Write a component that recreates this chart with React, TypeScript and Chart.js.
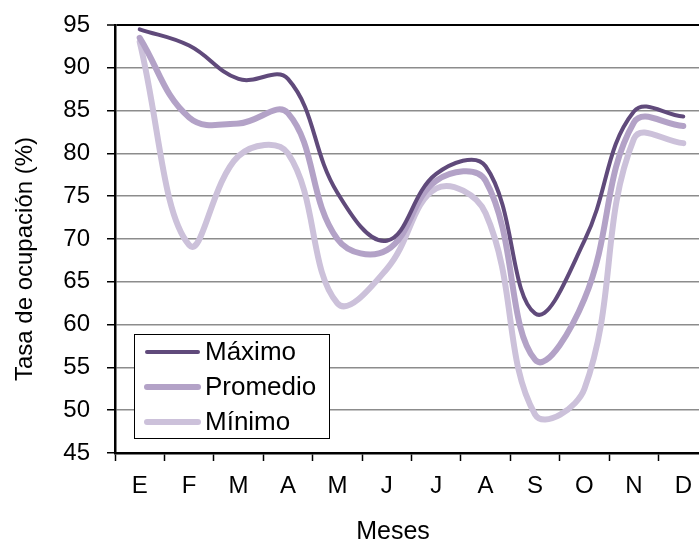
import React, { useEffect, useRef } from "react";
import { Chart, registerables } from "chart.js";

Chart.register(...registerables);

// ---- data ----
const months = ["E", "F", "M", "A", "M", "J", "J", "A", "S", "O", "N", "D"];
const maximo = [94.5, 92.6, 88.7, 88.7, 75.4, 69.8, 77.6, 78.5, 61.3, 69.8, 84.9, 84.3];
const promedio = [93.5, 84.2, 83.5, 84.7, 70.0, 68.7, 76.8, 76.8, 55.9, 63.0, 83.6, 83.2];
const minimo = [93.0, 69.3, 79.7, 80.0, 62.5, 66.5, 75.9, 73.0, 49.5, 52.5, 81.7, 81.2];
const seriesNames = ["Máximo", "Promedio", "Mínimo"];
const seriesColors = ["#604a7b", "#b3a2c7", "#ccc1da"];
const seriesWidths = [4, 6, 6];
const yMin = 45;
const yMax = 95;
const yStep = 5;
const yTitle = "Tasa de ocupación (%)";
const xTitle = "Meses";

const FONT = "'Liberation Sans', Arial, sans-serif";

const overlayPlugin = {
  id: "overlay",
  afterDraw(chart: any) {
    const ctx = chart.ctx as CanvasRenderingContext2D;
    const area = chart.chartArea;
    ctx.save();
    // legend box inside plot area
    const bx = area.left + 19;
    const by = area.top + 309;
    const bw = 195;
    const bh = 104;
    ctx.fillStyle = "#ffffff";
    ctx.fillRect(bx, by, bw, bh);
    ctx.strokeStyle = "#000000";
    ctx.lineWidth = 1;
    ctx.strokeRect(bx + 0.5, by + 0.5, bw, bh);
    chart.data.datasets.forEach((ds: any, i: number) => {
      const cy = by + 18 + i * 35;
      ctx.strokeStyle = ds.borderColor;
      ctx.lineWidth = ds.borderWidth;
      ctx.lineCap = "round";
      ctx.beginPath();
      ctx.moveTo(bx + 13, cy);
      ctx.lineTo(bx + 64, cy);
      ctx.stroke();
      ctx.fillStyle = "#000000";
      ctx.font = `26px ${FONT}`;
      ctx.textAlign = "left";
      ctx.textBaseline = "middle";
      ctx.fillText(ds.label, bx + 71, cy + 1);
    });
    // axis titles
    ctx.fillStyle = "#000000";
    ctx.font = `24px ${FONT}`;
    ctx.textAlign = "center";
    ctx.textBaseline = "middle";
    ctx.save();
    ctx.translate(25, 259);
    ctx.rotate(-Math.PI / 2);
    ctx.fillText(yTitle, 0, 0);
    ctx.restore();
    ctx.textBaseline = "alphabetic";
    ctx.font = `25px ${FONT}`;
    ctx.fillText(xTitle, 393, 539);
    ctx.restore();
  },
};

function App() {
  const canvasRef = useRef<HTMLCanvasElement | null>(null);

  useEffect(() => {
    const canvas = canvasRef.current;
    if (!canvas) return;
    const values = [maximo, promedio, minimo];
    const chart = new Chart(canvas, {
      type: "line",
      data: {
        labels: months,
        datasets: values.map((v, i) => ({
          label: seriesNames[i],
          data: v,
          borderColor: seriesColors[i],
          backgroundColor: seriesColors[i],
          borderWidth: seriesWidths[i],
          borderCapStyle: "round",
          borderJoinStyle: "round",
          pointRadius: 0,
          tension: 0.4,
          fill: false,
        })),
      },
      options: {
        responsive: false,
        animation: false,
        devicePixelRatio: 1,
        layout: { padding: { top: 25, left: 0, right: 0, bottom: 0 } },
        plugins: {
          legend: { display: false },
          tooltip: { enabled: false },
          title: { display: false },
        },
        scales: {
          x: {
            type: "category",
            offset: true,
            grid: {
              offset: true,
              drawOnChartArea: false,
              tickLength: 8,
              tickColor: "#000000",
              tickWidth: 1.5,
            },
            border: { color: "#000000", width: 2.5 },
            ticks: {
              color: "#000000",
              font: { family: FONT, size: 24 },
              padding: 11,
              maxRotation: 0,
              autoSkip: false,
            },
            afterFit: (s: any) => {
              s.height = 87;
              s.paddingLeft = 0;
              s.paddingRight = 0;
            },
          },
          y: {
            min: yMin,
            max: yMax,
            ticks: {
              stepSize: yStep,
              color: "#000000",
              font: { family: FONT, size: 24 },
              padding: 17,
            },
            grid: {
              color: (c: any) => (c.tick && c.tick.value === yMax ? "#000000" : "#8c8c8c"),
              lineWidth: (c: any) => (c.tick && c.tick.value === yMax ? 2 : 1.5),
              tickLength: 8,
              tickColor: "#000000",
              tickWidth: 1.5,
            },
            border: { color: "#000000", width: 2.5 },
            afterFit: (s: any) => {
              s.width = 115;
              s.paddingTop = 0;
              s.paddingBottom = 0;
            },
          },
        },
      },
      plugins: [overlayPlugin],
    } as any);
    return () => chart.destroy();
  }, []);

  return (
    <div
      style={{
        position: "fixed",
        left: 0,
        top: 0,
        width: 699,
        height: 540,
        overflow: "hidden",
        background: "#ffffff",
      }}
    >
      <canvas
        ref={canvasRef}
        width={708}
        height={540}
        style={{ display: "block", width: 708, height: 540 }}
      />
    </div>
  );
}

export default App;
